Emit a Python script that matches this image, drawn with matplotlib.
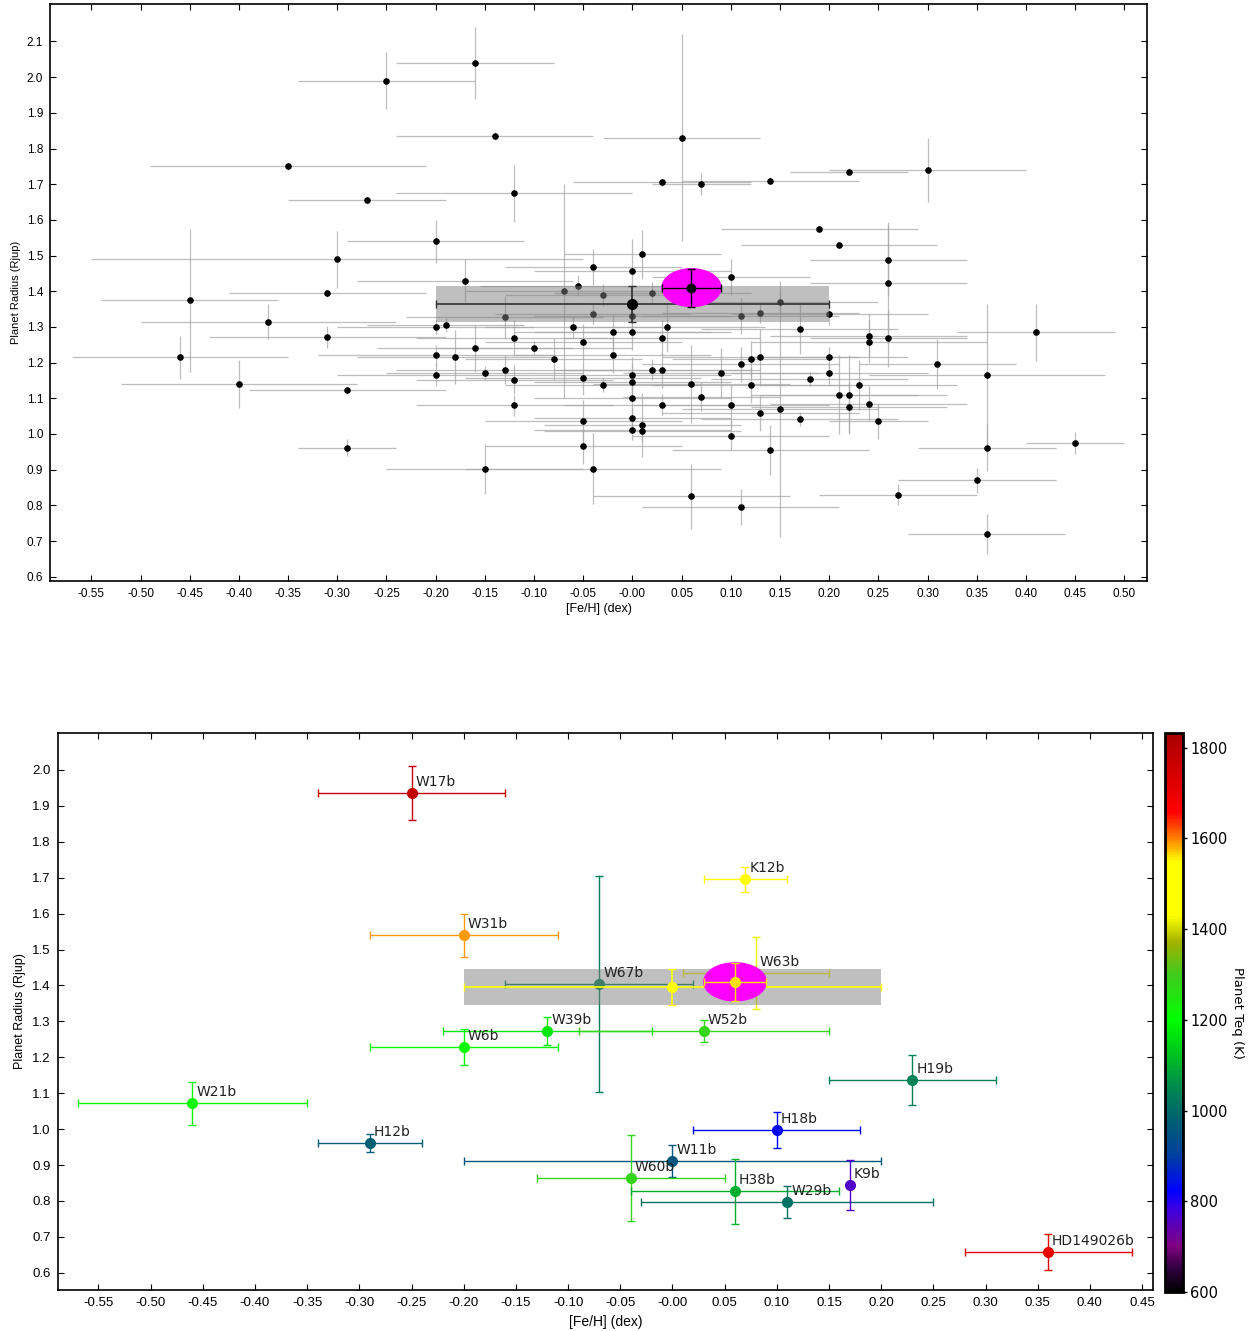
import matplotlib
matplotlib.use('Agg')
import matplotlib.pyplot as plt
import numpy as np
from matplotlib.patches import Ellipse
from matplotlib.colors import LinearSegmentedColormap, Normalize
from matplotlib.cm import ScalarMappable

plt.rcParams['font.family'] = ['Liberation Sans', 'DejaVu Sans']

# --- upper panel: whole sample ---
feh = [-0.25, -0.16, -0.14, 0.05, -0.35, -0.27, -0.12, 0.03, 0.07, 0.14,
       0.22, 0.30, 0.19, 0.21, -0.20, -0.30, 0.26, 0.26, 0.01, -0.04,
       0.00, 0.10, -0.17, -0.055, -0.45, -0.31, -0.37, -0.31, -0.46, -0.40,
       -0.29, -0.29, -0.07, -0.03, 0.02, -0.13, -0.04, 0.00, 0.11, 0.13,
       0.15, 0.20, -0.20, -0.19, -0.06, -0.02, 0.00, 0.035, -0.12, -0.05,
       0.03, -0.20, -0.18, -0.16, -0.10, -0.08, -0.02, 0.12, 0.13, 0.11,
       -0.20, -0.15, -0.13, -0.12, -0.05, 0.00, 0.00, 0.02, 0.03, 0.09,
       -0.03, 0.06, 0.12, 0.07, 0.00, -0.12, 0.03, 0.10, 0.15, 0.13,
       -0.05, 0.00, 0.01, 0.00, 0.01, 0.10, -0.05, 0.14, -0.15, -0.04,
       0.06, 0.11, 0.17, 0.24, 0.24, 0.26, 0.20, 0.20, 0.18, 0.23,
       0.21, 0.22, 0.22, 0.24, 0.17, 0.25, 0.31, 0.36, 0.41, 0.45,
       0.36, 0.35, 0.27, 0.36]
feh_err = [0.09, 0.08, 0.10, 0.08, 0.14, 0.08, 0.12, 0.09, 0.05, 0.09,
           0.06, 0.10, 0.10, 0.10, 0.09, 0.25, 0.08, 0.08, 0.08, 0.09,
           0.10, 0.08, 0.11, 0.10, 0.09, 0.10, 0.13, 0.12, 0.11, 0.12,
           0.10, 0.05, 0.10, 0.10, 0.10, 0.10, 0.10, 0.10, 0.10, 0.10,
           0.10, 0.10, 0.10, 0.08, 0.09, 0.10, 0.10, 0.10, 0.10, 0.10,
           0.10, 0.12, 0.10, 0.10, 0.10, 0.09, 0.10, 0.08, 0.10, 0.10,
           0.10, 0.10, 0.11, 0.10, 0.12, 0.10, 0.10, 0.10, 0.10, 0.10,
           0.10, 0.10, 0.10, 0.08, 0.10, 0.10, 0.10, 0.10, 0.10, 0.10,
           0.10, 0.10, 0.10, 0.10, 0.10, 0.10, 0.10, 0.10, 0.10, 0.13,
           0.10, 0.10, 0.10, 0.10, 0.12, 0.08, 0.08, 0.10, 0.10, 0.10,
           0.08, 0.10, 0.10, 0.10, 0.10, 0.05, 0.08, 0.12, 0.08, 0.05,
           0.07, 0.08, 0.08, 0.08]
rad = [1.99, 2.04, 1.835, 1.83, 1.75, 1.655, 1.675, 1.705, 1.70, 1.71,
       1.735, 1.74, 1.575, 1.53, 1.54, 1.49, 1.487, 1.424, 1.503, 1.467,
       1.456, 1.439, 1.43, 1.416, 1.375, 1.395, 1.315, 1.272, 1.215, 1.14,
       1.122, 0.962, 1.40, 1.39, 1.395, 1.327, 1.337, 1.33, 1.33, 1.34,
       1.37, 1.336, 1.30, 1.305, 1.30, 1.285, 1.285, 1.30, 1.268, 1.258,
       1.268, 1.22, 1.215, 1.24, 1.24, 1.21, 1.22, 1.21, 1.215, 1.195,
       1.165, 1.17, 1.18, 1.152, 1.158, 1.165, 1.145, 1.18, 1.178, 1.17,
       1.138, 1.14, 1.138, 1.105, 1.10, 1.08, 1.082, 1.08, 1.07, 1.058,
       1.035, 1.045, 1.025, 1.012, 1.008, 0.995, 0.965, 0.955, 0.903, 0.903,
       0.825, 0.795, 1.295, 1.275, 1.258, 1.268, 1.215, 1.17, 1.155, 1.138,
       1.11, 1.11, 1.075, 1.085, 1.042, 1.035, 1.195, 1.164, 1.285, 0.975,
       0.962, 0.87, 0.83, 0.72]
rad_err = [0.08, 0.10, 0.01, 0.29, 0.01, 0.01, 0.08, 0.01, 0.03, 0.01,
           0.01, 0.09, 0.01, 0.01, 0.06, 0.08, 0.10, 0.17, 0.07, 0.05,
           0.09, 0.05, 0.06, 0.03, 0.20, 0.01, 0.05, 0.03, 0.06, 0.067,
           0.01, 0.025, 0.30, 0.03, 0.03, 0.06, 0.03, 0.05, 0.05, 0.03,
           0.03, 0.03, 0.02, 0.02, 0.03, 0.05, 0.05, 0.07, 0.05, 0.05,
           0.05, 0.03, 0.075, 0.065, 0.02, 0.06, 0.05, 0.05, 0.08, 0.05,
           0.03, 0.02, 0.04, 0.04, 0.05, 0.05, 0.05, 0.03, 0.05, 0.07,
           0.02, 0.11, 0.05, 0.04, 0.05, 0.03, 0.03, 0.06, 0.36, 0.05,
           0.06, 0.03, 0.09, 0.03, 0.03, 0.04, 0.05, 0.07, 0.07, 0.10,
           0.09, 0.05, 0.07, 0.06, 0.06, 0.08, 0.03, 0.03, 0.02, 0.07,
           0.11, 0.11, 0.07, 0.05, 0.02, 0.05, 0.07, 0.20, 0.08, 0.03,
           0.065, 0.035, 0.03, 0.055]

# sample mean and the target planet
mean_top = [0.00, 1.365]
mean_top_err = [0.20, 0.05]
target = [0.06, 1.41]
target_err = [0.03, 0.053]

# --- lower panel: labelled planets ---
names = ['W17b', 'W31b', 'K12b', 'W67b', 'W63b', 'W39b', 'W52b', 'W6b', 'H19b',
         'W21b', 'H12b', 'H18b', 'W11b', 'W60b', 'H38b', 'W29b', 'K9b', 'HD149026b']
feh2 = [-0.25, -0.20, 0.07, -0.07, 0.08, -0.12, 0.03, -0.20, 0.23,
        -0.46, -0.29, 0.10, 0.00, -0.04, 0.06, 0.11, 0.17, 0.36]
feh2_err = [0.09, 0.09, 0.04, 0.09, 0.07, 0.10, 0.12, 0.09, 0.08,
            0.11, 0.05, 0.08, 0.20, 0.09, 0.10, 0.14, 0.0, 0.08]
rad2 = [1.936, 1.54, 1.696, 1.404, 1.435, 1.273, 1.273, 1.228, 1.136,
        1.072, 0.961, 0.997, 0.911, 0.863, 0.827, 0.797, 0.844, 0.657]
rad2_err = [0.075, 0.06, 0.035, 0.30, 0.10, 0.04, 0.03, 0.05, 0.07,
            0.06, 0.025, 0.05, 0.045, 0.12, 0.09, 0.045, 0.07, 0.05]
teq = [1780, 1590, 1480, 1030, 1420, 1170, 1280, 1200, 1040,
       1220, 980, 830, 960, 1280, 1100, 1010, 760, 1700]

mean_bot = [0.00, 1.395]
mean_bot_err = [0.20, 0.05]
mean_bot_teq = 1470
target_teq = 1560

x_top_ticks = [-0.55, -0.50, -0.45, -0.40, -0.35, -0.30, -0.25, -0.20, -0.15, -0.10, -0.05,
               0.00, 0.05, 0.10, 0.15, 0.20, 0.25, 0.30, 0.35, 0.40, 0.45, 0.50]
x_top_labels = ['-0.55', '-0.50', '-0.45', '-0.40', '-0.35', '-0.30', '-0.25', '-0.20', '-0.15',
                '-0.10', '-0.05', '-0.00', '0.05', '0.10', '0.15', '0.20', '0.25', '0.30',
                '0.35', '0.40', '0.45', '0.50']
y_top_ticks = [0.6, 0.7, 0.8, 0.9, 1.0, 1.1, 1.2, 1.3, 1.4, 1.5, 1.6, 1.7, 1.8, 1.9, 2.0, 2.1]
y_bot_ticks = [0.6, 0.7, 0.8, 0.9, 1.0, 1.1, 1.2, 1.3, 1.4, 1.5, 1.6, 1.7, 1.8, 1.9, 2.0]
cb_ticks = [600, 800, 1000, 1200, 1400, 1600, 1800]

# colour scale for Teq
teq_cmap = LinearSegmentedColormap.from_list('teq', [
    (0.000, '#000000'), (0.040, '#300040'), (0.081, '#800080'), (0.146, '#4000e0'),
    (0.179, '#0000ff'), (0.244, '#0040a0'), (0.308, '#006070'), (0.365, '#008850'),
    (0.422, '#00c020'), (0.487, '#00ff00'), (0.568, '#40cc20'), (0.625, '#a0b000'),
    (0.674, '#ffff00'), (0.771, '#ffff00'), (0.812, '#ff8000'), (0.860, '#ff0000'),
    (1.000, '#aa0000')])
norm = Normalize(vmin=600, vmax=1832)

fig = plt.figure(figsize=(12.5, 13.31), dpi=100)


def style_axes(ax, xlim, ylim, yticks, fs):
    ax.set_xlim(*xlim)
    ax.set_ylim(*ylim)
    ax.set_xticks(x_top_ticks)
    ax.set_xticklabels(x_top_labels)
    ax.set_yticks(yticks)
    ax.set_yticklabels(['%.1f' % v for v in yticks])
    ax.tick_params(direction='in', top=True, right=True, length=4, width=0.8,
                   labelsize=fs, pad=5)
    for sp in ax.spines.values():
        sp.set_linewidth(1.2)


# upper panel
ax1 = fig.add_axes([0.04, 0.5635, 0.8776, 0.4335])
ax1.errorbar(feh, rad, xerr=feh_err, yerr=rad_err, fmt='none',
             ecolor='#a8a8a8', elinewidth=0.9, alpha=0.75, zorder=1)
ax1.scatter(feh, rad, s=14, color='black', zorder=2)
ax1.fill_between([mean_top[0] - mean_top_err[0], mean_top[0] + mean_top_err[0]],
                 mean_top[1] - mean_top_err[1], mean_top[1] + mean_top_err[1],
                 color='gray', alpha=0.5, lw=0, zorder=3)
ax1.errorbar([mean_top[0]], [mean_top[1]], xerr=[mean_top_err[0]], yerr=[mean_top_err[1]],
             fmt='o', color='black', ecolor='#303030', ms=7, elinewidth=1.2,
             capsize=3, zorder=4)
ax1.add_patch(Ellipse((target[0], target[1]), 2 * target_err[0], 2 * target_err[1],
                      color='magenta', zorder=5))
ax1.errorbar([target[0]], [target[1]], xerr=[target_err[0]], yerr=[target_err[1]],
             fmt='o', color='black', ms=6, elinewidth=1.0, capsize=3, zorder=6)
style_axes(ax1, (-0.592, 0.523), (0.588, 2.205), y_top_ticks, 8.5)
ax1.set_xlabel('[Fe/H] (dex)', fontsize=9)
ax1.set_ylabel('Planet Radius (Rjup)', fontsize=8)
ax1.xaxis.set_label_coords(0.5, -0.039)
ax1.yaxis.set_label_coords(-0.0265, 0.5)

# lower panel
ax2 = fig.add_axes([0.0462, 0.0308, 0.8762, 0.4185])
colors = [teq_cmap(norm(t)) for t in teq]
for i in range(len(names)):
    ax2.errorbar([feh2[i]], [rad2[i]], xerr=[feh2_err[i]], yerr=[rad2_err[i]],
                 fmt='o', color=colors[i], ms=7, elinewidth=1.0, capsize=3, zorder=2)
    ax2.annotate(names[i], (feh2[i], rad2[i]), xytext=(4, 4), textcoords='offset pixels',
                 fontsize=10, family='DejaVu Sans', color='#222222', ha='left', va='bottom',
                 zorder=7)
ax2.fill_between([mean_bot[0] - mean_bot_err[0], mean_bot[0] + mean_bot_err[0]],
                 mean_bot[1] - mean_bot_err[1], mean_bot[1] + mean_bot_err[1],
                 color='gray', alpha=0.5, lw=0, zorder=3)
mc = teq_cmap(norm(mean_bot_teq))
ax2.errorbar([mean_bot[0]], [mean_bot[1]], xerr=[mean_bot_err[0]], yerr=[mean_bot_err[1]],
             fmt='o', color=mc, ms=7, elinewidth=1.2, capsize=3, zorder=4)
ax2.add_patch(Ellipse((target[0], target[1]), 2 * target_err[0], 2 * target_err[1],
                      color='magenta', zorder=5))
tc = teq_cmap(norm(target_teq))
ax2.errorbar([target[0]], [target[1]], xerr=[target_err[0]], yerr=[target_err[1]],
             fmt='o', color=tc, ms=7, elinewidth=1.0, capsize=3, zorder=6)
style_axes(ax2, (-0.589, 0.4605), (0.552, 2.103), y_bot_ticks, 9.5)
ax2.set_xticks(x_top_ticks[:-1])
ax2.set_xticklabels(x_top_labels[:-1])
ax2.set_xlim(-0.589, 0.4605)
ax2.set_xlabel('[Fe/H] (dex)', fontsize=10)
ax2.set_ylabel('Planet Radius (Rjup)', fontsize=9)
ax2.xaxis.set_label_coords(0.5, -0.044)
ax2.yaxis.set_label_coords(-0.029, 0.5)

# colour bar
cax = fig.add_axes([0.932, 0.0293, 0.0144, 0.42])
sm = ScalarMappable(norm=norm, cmap=teq_cmap)
cb = fig.colorbar(sm, cax=cax)
cb.set_ticks(cb_ticks)
cb.ax.tick_params(labelsize=10.5, length=3, width=1, pad=2)
for lab in cb.ax.get_yticklabels():
    lab.set_family('DejaVu Sans')
cb.outline.set_linewidth(2)
cb.set_label('Planet Teq (K)', rotation=270, fontsize=9.5, family='DejaVu Sans')
cb.ax.yaxis.set_label_coords(4.4, 0.5)

fig.savefig('out.png', dpi=100)
